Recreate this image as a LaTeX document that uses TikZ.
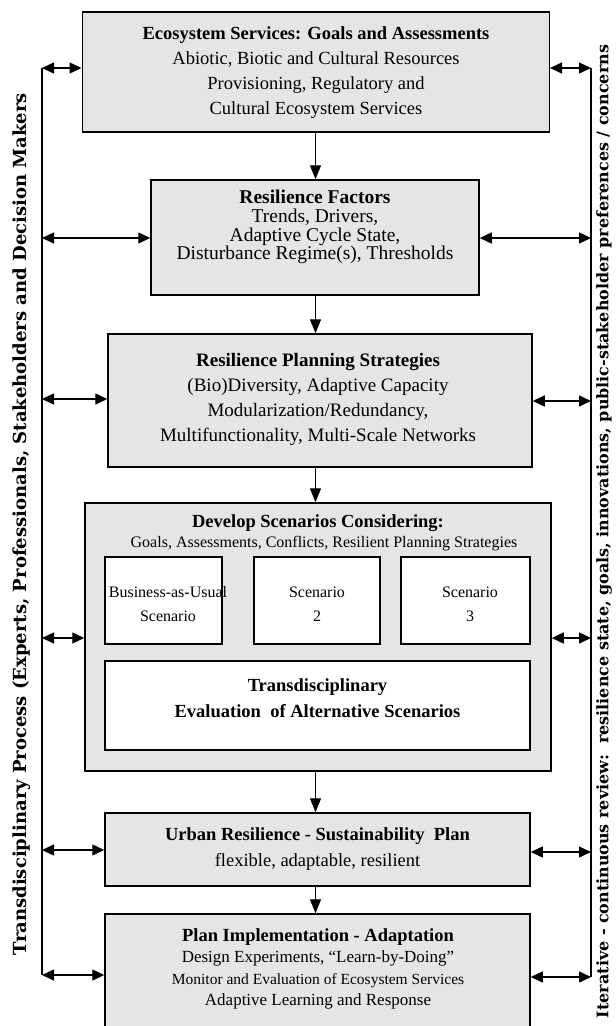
\documentclass[tikz,border=0pt]{standalone}
\usepackage{fontspec}
\setmainfont{Liberation Serif}
\newfontfamily\sidefont{DejaVu Serif}
\usetikzlibrary{arrows.meta,shadows}
\definecolor{boxgray}{RGB}{229,229,229}
\tikzset{
  box/.style={draw=black, line width=1.5pt, fill=boxgray, inner sep=0pt,
    drop shadow={shadow xshift=0.9pt, shadow yshift=-1.3pt, fill=black, opacity=1}},
  wbox/.style={draw=black, line width=1.5pt, fill=white, inner sep=0pt},
  txt/.style={align=center, inner sep=0pt, font=\fontsize{18.5}{25}\selectfont},
  conn/.style={line width=1.4pt, -{Triangle[length=14pt,width=11pt]}},
  dconn/.style={line width=1.4pt, {Triangle[length=12pt,width=11pt]}-{Triangle[length=12pt,width=11pt]}},
  vline/.style={line width=1.6pt},
  side/.style={rotate=90, inner sep=0pt}
}
\begin{document}
\begin{tikzpicture}[x=1pt,y=-1pt]
\useasboundingbox (0,0) rectangle (616,1026);
\clip (0,0) rectangle (616,1026);
% boxes
\node[box, minimum width=467pt, minimum height=120pt] (b1) at (315.75,72) {};
\node[box, minimum width=328pt, minimum height=115pt] (b2) at (315,237.5) {};
\node[box, minimum width=424pt, minimum height=133pt] (b3) at (320,400.5) {};
\node[box, minimum width=466pt, minimum height=268pt] (b4) at (318,637) {};
\node[wbox, minimum width=117pt, minimum height=87pt] (bau) at (163.5,600.5) {};
\node[wbox, minimum width=126pt, minimum height=87pt] (sc2) at (317,600.5) {};
\node[wbox, minimum width=129pt, minimum height=87pt] (sc3) at (465.5,600.5) {};
\node[wbox, minimum width=425pt, minimum height=89pt] (tr) at (317.5,705.5) {};
\node[box, minimum width=425pt, minimum height=73pt] (b5) at (317.5,849.5) {};
\node[box, minimum width=425pt, minimum height=126pt] (b6) at (317.5,977) {};
% texts
\node[txt] (t1) at (316,72.5) {\textbf{Ecosystem Services: Goals and Assessments}\\Abiotic, Biotic and Cultural Resources\\Provisioning, Regulatory and\\Cultural Ecosystem Services};
\node[txt, font=\fontsize{19.5}{18.8}\selectfont] (t2) at (315,227) {\textbf{Resilience Factors}\\Trends, Drivers,\\Adaptive Cycle State,\\Disturbance Regime(s), Thresholds};
\node[txt, font=\fontsize{19}{25}\selectfont] (t3) at (318,399) {\textbf{Resilience Planning Strategies}\\(Bio)Diversity, Adaptive Capacity\\Modularization/Redundancy,\\Multifunctionality, Multi-Scale Networks};
\node[txt] (t4a) at (318,523) {\textbf{Develop Scenarios Considering:}};
\node[txt, font=\fontsize{16}{20}\selectfont] (t4b) at (324,544) {Goals, Assessments, Conflicts, Resilient Planning Strategies};
\node[txt, font=\fontsize{16}{24}\selectfont] (tbau) at (168,604) {Business-as-Usual\\Scenario};
\node[txt, font=\fontsize{16}{24}\selectfont] (tsc2) at (317,604) {Scenario\\2};
\node[txt, font=\fontsize{16}{24}\selectfont] (tsc3) at (470,604) {Scenario\\3};
\node[txt, font=\fontsize{18.5}{26}\selectfont] (ttr) at (317.5,698) {\textbf{Transdisciplinary}\\\textbf{Evaluation\ \ of Alternative Scenarios}};
\node[txt, font=\fontsize{18.5}{26}\selectfont] (t5) at (317.5,849) {\textbf{Urban Resilience - Sustainability\ \ Plan}\\flexible, adaptable, resilient};
\node[txt, font=\fontsize{17}{21.5}\selectfont] (t6) at (318,969) {{\fontsize{18.5}{21.5}\selectfont\textbf{Plan Implementation - Adaptation}}\\Design Experiments, “Learn-by-Doing”\\{\fontsize{15.5}{21.5}\selectfont Monitor and Evaluation of Ecosystem Services}\\Adaptive Learning and Response};
% side labels
\node[side] (lt) at (22,524) {\resizebox{862pt}{!}{\sidefont\bfseries Transdisciplinary Process (Experts, Professionals, Stakeholders and Decision Makers}};
\node[side] (rt) at (604,531.5) {\resizebox{973pt}{!}{\sidefont\bfseries Iterative - continuous review:\ \ resilience state, goals, innovations, public-stakeholder preferences / concerns}};
% down arrows
\coordinate (ax) at (315.5,0);
\draw[conn] (b1.south -| ax) -- (b2.north -| ax);
\draw[conn] (b2.south -| ax) -- (b3.north -| ax);
\draw[conn] (b3.south -| ax) -- (b4.north -| ax);
\draw[conn] (b4.south -| ax) -- (b5.north -| ax);
\draw[conn] (b5.south -| ax) -- (b6.north -| ax);
% side rails
\coordinate (L1) at (42,68);  \coordinate (L2) at (42,238);
\coordinate (L3) at (42,399); \coordinate (L4) at (42,638);
\coordinate (L5) at (42,850); \coordinate (L6) at (42,975);
\coordinate (R1) at (591,68);  \coordinate (R2) at (591,238);
\coordinate (R3) at (591,401); \coordinate (R4) at (591,638);
\coordinate (R5) at (591,852); \coordinate (R6) at (591,977);
\draw[vline] (L1) -- (L6);
\draw[vline] (R1) -- (R6);
\draw[dconn] (L1) -- (L1 -| b1.west);
\draw[dconn] (L2) -- (L2 -| b2.west);
\draw[dconn] (L3) -- (L3 -| b3.west);
\draw[dconn] (L4) -- (L4 -| b4.west);
\draw[dconn] (L5) -- (L5 -| b5.west);
\draw[dconn] (L6) -- (L6 -| b6.west);
\draw[dconn] (R1 -| b1.east) -- (R1);
\draw[dconn] (R2 -| b2.east) -- (R2);
\draw[dconn] (R3 -| b3.east) -- (R3);
\draw[dconn] (R4 -| b4.east) -- (R4);
\draw[dconn] (R5 -| b5.east) -- (R5);
\draw[dconn] (R6 -| b6.east) -- (R6);
\end{tikzpicture}
\end{document}
